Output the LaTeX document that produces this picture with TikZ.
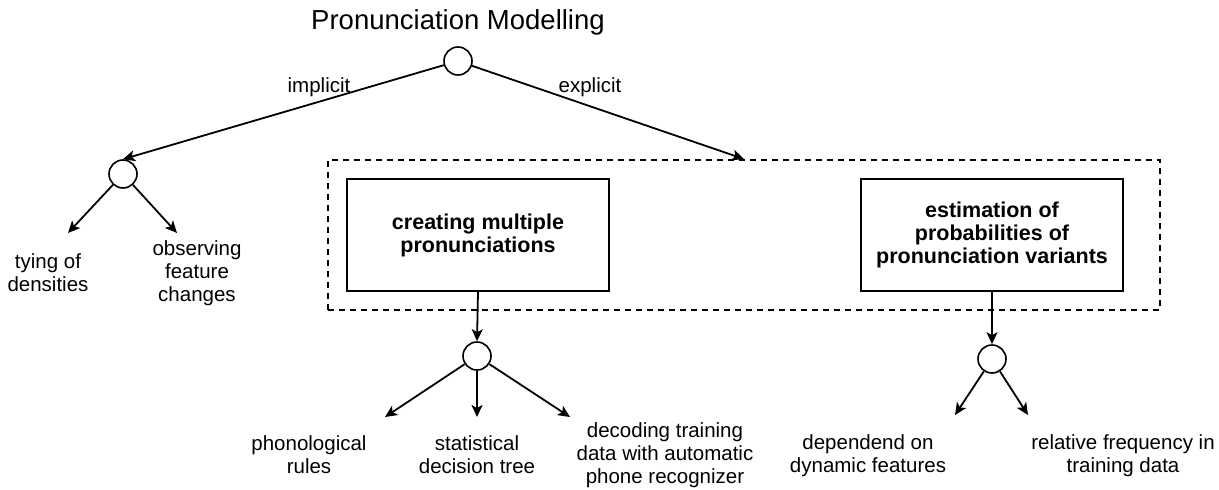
\documentclass[tikz,border=0pt]{standalone}
\usepackage{fontspec}
\setmainfont{Liberation Sans}
\usetikzlibrary{arrows.meta}
\begin{document}
\begin{tikzpicture}[x=1pt,y=-1pt,
  conn/.style={line width=1.8pt,-{Stealth[length=12pt,width=11pt,inset=3pt]}},
  junction/.style={circle,draw,line width=1.6pt,minimum size=28pt,inner sep=0pt},
  stepbox/.style={draw,line width=1.2pt,minimum width=262pt,minimum height=112pt,align=center,font=\fontsize{21.5}{23}\selectfont\bfseries},
  leaf/.style={align=center,font=\fontsize{20.5}{23}\selectfont,inner sep=0pt},
  lbl/.style={font=\fontsize{20.5}{23}\selectfont,inner sep=0pt}]
\useasboundingbox (0,0) rectangle (1219,490);
\node[anchor=base,font=\fontsize{27.5}{30}\selectfont,inner sep=0pt] (title) at (458,29) {Pronunciation Modelling};
\node[junction] (c1) at (458,61) {};
\node[junction] (c2) at (123,174) {};
\node[junction] (c3) at (477,356) {};
\node[junction] (c4) at (992,359) {};
\node[lbl] (limp) at (319,87) {implicit};
\node[lbl] (lexp) at (590,87) {explicit};
\node[draw,dash pattern=on 6pt off 5pt,line width=1.5pt,minimum width=832pt,minimum height=150pt,inner sep=0pt] (group) at (744,235) {};
\coordinate (gtop) at (744,159);
\node[stepbox] (b1) at (478,235) {creating multiple\\pronunciations};
\node[stepbox] (b2) at (992,235) {estimation of\\probabilities of\\pronunciation variants};
% leaves
\node[leaf] (t1) at (48,273) {tying of\\densities};
\node[leaf] (t2) at (197,273) {observing\\feature\\changes};
\node[leaf] (p1) at (309,455) {phonological\\rules};
\node[leaf] (p2) at (477,455) {statistical\\decision tree};
\node[leaf] (p3) at (665,455) {decoding training\\data with automatic\\phone recognizer};
\node[leaf] (e1) at (868,456) {dependend on\\dynamic features};
\node[leaf] (e2) at (1123,456) {relative frequency in\\training data};
% arrow ends
\coordinate (a1) at (68,233);
\coordinate (a2) at (177,233);
\coordinate (a3) at (385,417);
\coordinate (a4) at (477,417);
\coordinate (a5) at (570,417);
\coordinate (a6) at (955,415);
\coordinate (a7) at (1028,415);
% connectors
\draw[conn] (c1) -- (c2.north);
\draw[conn] (c1) -- (gtop);
\draw[conn] (c2) -- (a1);
\draw[conn] (c2) -- (a2);
\draw[conn] (b1.south) -- (c3.north);
\draw[conn] (b2.south) -- (c4.north);
\draw[conn] (c3) -- (a3);
\draw[conn] (c3.south) -- (a4);
\draw[conn] (c3) -- (a5);
\draw[conn] (c4) -- (a6);
\draw[conn] (c4) -- (a7);
\end{tikzpicture}
\end{document}
